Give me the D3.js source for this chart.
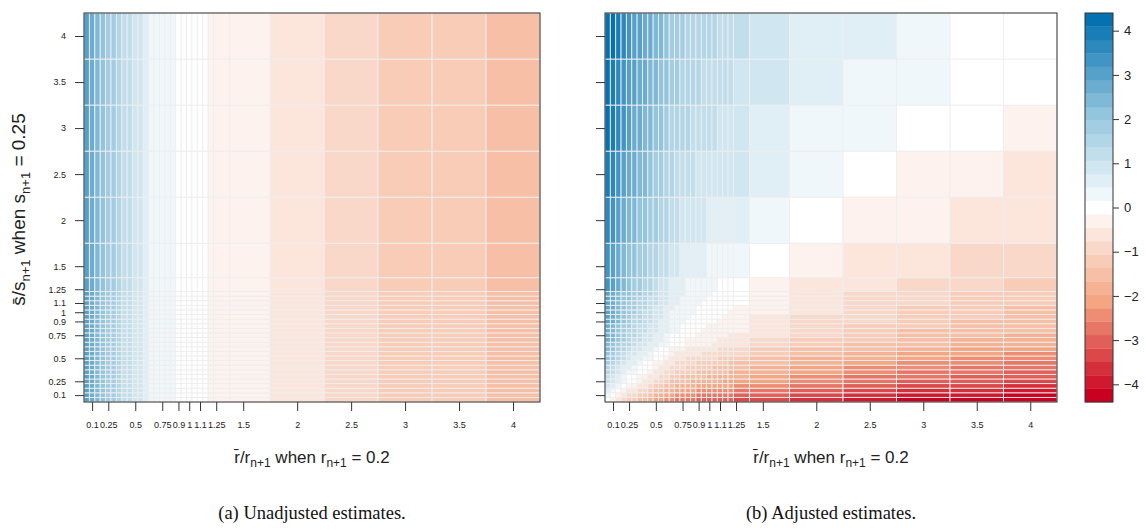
<!DOCTYPE html>
<html><head><meta charset="utf-8">
<script src="https://cdn.jsdelivr.net/npm/d3@7/dist/d3.min.js"></script>
<style>body{margin:0;background:#fff;} svg{display:block;}</style>
</head><body><svg id="chart" width="1146" height="529"></svg>
<script>
// ---- data ----
const gridValues = [0.05,0.1,0.15,0.2,0.25,0.3,0.35,0.4,0.45,0.5,0.55,0.6,0.65,0.7,0.75,0.8,0.85,0.9,0.95,1,1.05,1.1,1.15,1.2,1.25,1.5,2,2.5,3,3.5,4];
const xTickValues = [0.1,0.25,0.5,0.75,0.9,1,1.1,1.25,1.5,2,2.5,3,3.5,4];
const yTickValues = [0.1,0.25,0.5,0.75,0.9,1,1.1,1.25,1.5,2,2.5,3,3.5,4];
const legendTicks = [-4,-3,-2,-1,0,1,2,3,4];
const legendLimits = [-4.4, 4.4];
const legendBands = 29;
const paletteAnchors = ["#ca0020","#f4a582","#ffffff","#92c5de","#0571b0"];

// (a) unadjusted estimate by r-bar/r column (same for every s-bar/s row)
const unadjusted = [3.0,2.7,2.4,2.1,1.85,1.7,1.5,1.35,1.2,1.0,0.85,0.7,0.45,0.38,0.3,0.22,0.16,0.1,0.06,0,-0.04,-0.09,-0.13,-0.17,-0.21,-0.4,-0.7,-0.95,-1.15,-1.3,-1.45];

// (b) adjusted estimates; one row per s-bar/s value (bottom 0.05 -> top 4), columns by r-bar/r
const adjRow005 = [0,-0.3,-0.6,-0.9,-1.2,-1.2,-1.5,-1.5,-1.8,-2.1,-2.1,-2.4,-2.4,-2.7,-2.7,-2.7,-2.7,-3,-3,-3,-3,-3,-3,-3,-3.3,-3.3,-3.6,-3.9,-4.2,-4.2,-4.2];
const adjRow010 = [0.3,0,-0.3,-0.6,-0.9,-0.9,-1.2,-1.2,-1.5,-1.8,-1.8,-2.1,-2.1,-2.4,-2.4,-2.4,-2.4,-2.7,-2.7,-2.7,-2.7,-2.7,-2.7,-2.7,-3,-3,-3.3,-3.6,-3.9,-3.9,-4.2];
const adjRow015 = [0.6,0.3,0,-0.3,-0.6,-0.6,-0.9,-0.9,-1.2,-1.5,-1.5,-1.8,-1.8,-2.1,-2.1,-2.1,-2.1,-2.4,-2.4,-2.4,-2.4,-2.4,-2.4,-2.4,-2.7,-2.7,-3,-3.3,-3.6,-3.6,-3.9];
const adjRow020 = [0.9,0.6,0.3,0,-0.3,-0.3,-0.6,-0.6,-0.9,-1.2,-1.2,-1.5,-1.5,-1.8,-1.8,-1.8,-1.8,-2.1,-2.1,-2.1,-2.1,-2.1,-2.1,-2.1,-2.4,-2.4,-2.7,-3,-3.3,-3.3,-3.6];
const adjRow025 = [1.2,0.9,0.6,0.3,0,0,-0.3,-0.6,-0.6,-0.9,-0.9,-1.2,-1.5,-1.5,-1.5,-1.5,-1.8,-1.8,-1.8,-1.8,-1.8,-1.8,-2.1,-2.1,-2.1,-2.1,-2.4,-2.7,-3,-3,-3.3];
const adjRow030 = [1.2,0.9,0.6,0.3,0,0,-0.3,-0.3,-0.6,-0.6,-0.9,-0.9,-1.2,-1.2,-1.5,-1.5,-1.5,-1.5,-1.5,-1.8,-1.8,-1.8,-1.8,-1.8,-1.8,-2.1,-2.4,-2.7,-2.7,-3,-3];
const adjRow035 = [1.5,1.2,0.9,0.6,0.3,0.3,0,0,-0.3,-0.6,-0.6,-0.9,-0.9,-1.2,-1.2,-1.2,-1.2,-1.5,-1.5,-1.5,-1.5,-1.5,-1.5,-1.8,-1.8,-1.8,-2.1,-2.4,-2.7,-2.7,-3];
const adjRow040 = [1.5,1.2,0.9,0.6,0.6,0.3,0,0,0,-0.3,-0.6,-0.6,-0.9,-0.9,-0.9,-1.2,-1.2,-1.2,-1.2,-1.2,-1.5,-1.5,-1.5,-1.5,-1.5,-1.8,-2.1,-2.4,-2.4,-2.7,-2.7];
const adjRow045 = [1.8,1.5,1.2,0.9,0.6,0.6,0.3,0,0,-0.3,-0.3,-0.6,-0.6,-0.9,-0.9,-0.9,-0.9,-1.2,-1.2,-1.2,-1.2,-1.2,-1.2,-1.5,-1.5,-1.5,-1.8,-2.1,-2.4,-2.4,-2.7];
const adjRow050 = [2.1,1.8,1.5,1.2,0.9,0.6,0.6,0.3,0.3,0,0,-0.3,-0.6,-0.6,-0.6,-0.9,-0.9,-0.9,-0.9,-0.9,-0.9,-1.2,-1.2,-1.2,-1.2,-1.5,-1.8,-1.8,-2.1,-2.4,-2.4];
const adjRow055 = [2.1,1.8,1.5,1.2,0.9,0.9,0.6,0.6,0.3,0,0,0,-0.3,-0.6,-0.6,-0.6,-0.6,-0.6,-0.9,-0.9,-0.9,-0.9,-0.9,-0.9,-0.9,-1.2,-1.5,-1.8,-2.1,-2.1,-2.4];
const adjRow060 = [2.4,2.1,1.8,1.5,1.2,0.9,0.9,0.6,0.6,0.3,0,0,-0.3,-0.3,-0.3,-0.6,-0.6,-0.6,-0.6,-0.6,-0.6,-0.9,-0.9,-0.9,-0.9,-1.2,-1.5,-1.5,-1.8,-2.1,-2.1];
const adjRow065 = [2.4,2.1,1.8,1.5,1.5,1.2,0.9,0.9,0.6,0.6,0.3,0.3,0,0,0,-0.3,-0.3,-0.3,-0.3,-0.3,-0.6,-0.6,-0.6,-0.6,-0.6,-0.9,-1.2,-1.5,-1.5,-1.8,-1.8];
const adjRow070 = [2.7,2.4,2.1,1.8,1.5,1.2,1.2,0.9,0.9,0.6,0.6,0.3,0,0,0,-0.3,-0.3,-0.3,-0.3,-0.3,-0.3,-0.6,-0.6,-0.6,-0.6,-0.9,-1.2,-1.2,-1.5,-1.8,-1.8];
const adjRow075 = [2.7,2.4,2.1,1.8,1.5,1.5,1.2,0.9,0.9,0.6,0.6,0.3,0,0,0,0,0,-0.3,-0.3,-0.3,-0.3,-0.3,-0.3,-0.6,-0.6,-0.6,-0.9,-1.2,-1.5,-1.5,-1.8];
const adjRow080 = [2.7,2.4,2.1,1.8,1.5,1.5,1.2,1.2,0.9,0.9,0.6,0.6,0.3,0.3,0,0,0,0,-0.3,-0.3,-0.3,-0.3,-0.3,-0.3,-0.3,-0.6,-0.9,-1.2,-1.5,-1.5,-1.5];
const adjRow085 = [2.7,2.4,2.1,1.8,1.8,1.5,1.2,1.2,0.9,0.9,0.6,0.6,0.3,0.3,0,0,0,0,0,-0.3,-0.3,-0.3,-0.3,-0.3,-0.3,-0.6,-0.9,-1.2,-1.2,-1.5,-1.5];
const adjRow090 = [3,2.7,2.4,2.1,1.8,1.5,1.5,1.2,1.2,0.9,0.6,0.6,0.3,0.3,0.3,0,0,0,0,0,0,-0.3,-0.3,-0.3,-0.3,-0.6,-0.9,-0.9,-1.2,-1.5,-1.5];
const adjRow095 = [3,2.7,2.4,2.1,1.8,1.5,1.5,1.2,1.2,0.9,0.9,0.6,0.3,0.3,0.3,0.3,0,0,0,0,0,0,-0.3,-0.3,-0.3,-0.6,-0.9,-0.9,-1.2,-1.2,-1.5];
const adjRow100 = [3,2.7,2.4,2.1,1.8,1.8,1.5,1.2,1.2,0.9,0.9,0.6,0.3,0.3,0.3,0.3,0.3,0,0,0,0,0,0,-0.3,-0.3,-0.3,-0.6,-0.9,-1.2,-1.2,-1.5];
const adjRow105 = [3,2.7,2.4,2.1,1.8,1.8,1.5,1.5,1.2,0.9,0.9,0.6,0.6,0.3,0.3,0.3,0.3,0,0,0,0,0,0,0,-0.3,-0.3,-0.6,-0.9,-1.2,-1.2,-1.5];
const adjRow110 = [3,2.7,2.4,2.1,1.8,1.8,1.5,1.5,1.2,1.2,0.9,0.9,0.6,0.6,0.3,0.3,0.3,0.3,0,0,0,0,0,0,0,-0.3,-0.6,-0.9,-0.9,-1.2,-1.2];
const adjRow115 = [3,2.7,2.4,2.1,2.1,1.8,1.5,1.5,1.2,1.2,0.9,0.9,0.6,0.6,0.3,0.3,0.3,0.3,0.3,0,0,0,0,0,0,-0.3,-0.6,-0.9,-0.9,-1.2,-1.2];
const adjRow120 = [3,2.7,2.4,2.1,2.1,1.8,1.8,1.5,1.5,1.2,0.9,0.9,0.6,0.6,0.6,0.3,0.3,0.3,0.3,0.3,0,0,0,0,0,-0.3,-0.6,-0.9,-0.9,-1.2,-1.2];
const adjRow125 = [3.3,3,2.7,2.4,2.1,1.8,1.8,1.5,1.5,1.2,0.9,0.9,0.6,0.6,0.6,0.3,0.3,0.3,0.3,0.3,0.3,0,0,0,0,-0.3,-0.6,-0.6,-0.9,-0.9,-1.2];
const adjRow150 = [3.3,3,2.7,2.4,2.1,2.1,1.8,1.8,1.5,1.5,1.2,1.2,0.9,0.9,0.6,0.6,0.6,0.6,0.6,0.3,0.3,0.3,0.3,0.3,0.3,0,-0.3,-0.6,-0.6,-0.9,-0.9];
const adjRow200 = [3.6,3.3,3,2.7,2.4,2.4,2.1,2.1,1.8,1.8,1.5,1.5,1.2,1.2,0.9,0.9,0.9,0.9,0.9,0.6,0.6,0.6,0.6,0.6,0.6,0.3,0,-0.3,-0.3,-0.6,-0.6];
const adjRow250 = [3.9,3.6,3.3,3,2.7,2.7,2.4,2.4,2.1,1.8,1.8,1.5,1.5,1.2,1.2,1.2,1.2,0.9,0.9,0.9,0.9,0.9,0.9,0.9,0.9,0.6,0.3,0,-0.3,-0.3,-0.6];
const adjRow300 = [4.2,3.9,3.6,3.3,3,2.7,2.7,2.4,2.4,2.1,2.1,1.8,1.5,1.5,1.5,1.5,1.2,1.2,1.2,1.2,1.2,0.9,0.9,0.9,0.9,0.6,0.3,0.3,0,0,-0.3];
const adjRow350 = [4.2,3.9,3.6,3.3,3,3,2.7,2.7,2.4,2.4,2.1,2.1,1.8,1.8,1.5,1.5,1.5,1.5,1.2,1.2,1.2,1.2,1.2,1.2,0.9,0.9,0.6,0.3,0.3,0,0];
const adjRow400 = [4.2,4.2,3.9,3.6,3.3,3,3,2.7,2.7,2.4,2.4,2.1,1.8,1.8,1.8,1.5,1.5,1.5,1.5,1.5,1.5,1.2,1.2,1.2,1.2,0.9,0.6,0.6,0.3,0,0];
const adjusted = [adjRow005,adjRow010,adjRow015,adjRow020,adjRow025,adjRow030,adjRow035,adjRow040,adjRow045,adjRow050,adjRow055,adjRow060,adjRow065,adjRow070,adjRow075,adjRow080,adjRow085,adjRow090,adjRow095,adjRow100,adjRow105,adjRow110,adjRow115,adjRow120,adjRow125,adjRow150,adjRow200,adjRow250,adjRow300,adjRow350,adjRow400];

// ---- layout ----
const svg = d3.select("#chart");
const plotTop = 13, plotBottom = 402;
const panels = [
  {x0: 84, x1: 540, value: (i, j) => unadjusted[i], yAxisLabels: true, caption: "(a) Unadjusted estimates."},
  {x0: 605, x1: 1057, value: (i, j) => adjusted[j][i], yAxisLabels: false, caption: "(b) Adjusted estimates."}
];
const n = gridValues.length;
const edges = gridValues.map((v, i) => i === 0 ? v - (gridValues[1] - v) / 2 : (gridValues[i - 1] + v) / 2);
edges.push(gridValues[n - 1] + (gridValues[n - 1] - gridValues[n - 2]) / 2);
const domain = [edges[0], edges[n]];

const bandWidth = (legendLimits[1] - legendLimits[0]) / legendBands;
const bandColor = d3.scaleLinear().domain([0, 7, 14, 21, 28]).range(paletteAnchors).interpolate(d3.interpolateRgb);
const colorOf = v => {
  let b = Math.floor((v - legendLimits[0]) / bandWidth);
  b = Math.max(0, Math.min(legendBands - 1, b));
  return bandColor(b);
};

const yScale = d3.scaleLinear().domain(domain).range([plotBottom, plotTop]);
const tickFont = "Liberation Sans, Arial, sans-serif";
const fmt = v => String(v);

panels.forEach(p => {
  const x = d3.scaleLinear().domain(domain).range([p.x0, p.x1]);
  const g = svg.append("g");
  const cells = [];
  for (let j = 0; j < n; j++) for (let i = 0; i < n; i++) cells.push({i, j, v: p.value(i, j)});
  g.selectAll("rect.cell").data(cells).join("rect")
    .attr("class", "cell")
    .attr("x", d => x(edges[d.i]))
    .attr("width", d => x(edges[d.i + 1]) - x(edges[d.i]))
    .attr("y", d => yScale(edges[d.j + 1]))
    .attr("height", d => yScale(edges[d.j]) - yScale(edges[d.j + 1]))
    .attr("fill", d => colorOf(d.v))
    .attr("stroke", "#eeeeee")
    .attr("stroke-width", 0.9);
  g.append("rect").attr("x", p.x0).attr("y", plotTop).attr("width", p.x1 - p.x0).attr("height", plotBottom - plotTop)
    .attr("fill", "none").attr("stroke", "#333").attr("stroke-width", 1);

  const xa = g.append("g").attr("transform", `translate(0,${plotBottom})`)
    .call(d3.axisBottom(x).tickValues(xTickValues).tickFormat(fmt).tickSize(9).tickPadding(10.5));
  const ya = g.append("g").attr("transform", `translate(${p.x0},0)`)
    .call(d3.axisLeft(yScale).tickValues(yTickValues).tickFormat(p.yAxisLabels ? fmt : () => "").tickSize(9).tickPadding(9));
  [xa, ya].forEach(a => {
    a.select(".domain").remove();
    a.selectAll("line").attr("stroke", "#333");
    a.selectAll("text").attr("font-family", tickFont).attr("font-size", 9).attr("fill", "#222");
  });

  const cx = (p.x0 + p.x1) / 2;
  const t = g.append("text").attr("x", cx).attr("y", 463).attr("text-anchor", "middle")
    .attr("font-family", tickFont).attr("font-size", 17).attr("fill", "#222");
  t.append("tspan").text("r\u0304/r");
  t.append("tspan").attr("font-size", 12).attr("dy", 4).text("n+1");
  t.append("tspan").attr("dy", -4).text(" when r");
  t.append("tspan").attr("font-size", 12).attr("dy", 4).text("n+1");
  t.append("tspan").attr("dy", -4).text(" = 0.2");

  g.append("text").attr("x", cx).attr("y", 519).attr("text-anchor", "middle")
    .attr("font-family", "Liberation Serif, DejaVu Serif, serif").attr("font-size", 18.5).attr("fill", "#111")
    .text(p.caption);
});

const yt = svg.append("text").attr("transform", `translate(25,${(plotTop + plotBottom) / 2 + 2}) rotate(-90)`)
  .attr("text-anchor", "middle").attr("font-family", tickFont).attr("font-size", 19).attr("fill", "#222");
yt.append("tspan").text("s\u0304/s");
yt.append("tspan").attr("font-size", 13).attr("dy", 4.5).text("n+1");
yt.append("tspan").attr("dy", -4.5).text(" when s");
yt.append("tspan").attr("font-size", 13).attr("dy", 4.5).text("n+1");
yt.append("tspan").attr("dy", -4.5).text(" = 0.25");

const lx0 = 1085, lx1 = 1113;
const ly = d3.scaleLinear().domain(legendLimits).range([plotBottom, plotTop]);
const bands = d3.range(legendBands).map(b => ({lo: legendLimits[0] + b * bandWidth, hi: legendLimits[0] + (b + 1) * bandWidth, b}));
const key = svg.append("g");
key.selectAll("rect.band").data(bands).join("rect").attr("class", "band")
  .attr("x", lx0).attr("width", lx1 - lx0)
  .attr("y", d => ly(d.hi)).attr("height", d => ly(d.lo) - ly(d.hi) + 0.3)
  .attr("fill", d => bandColor(d.b));
key.append("rect").attr("x", lx0).attr("y", plotTop).attr("width", lx1 - lx0).attr("height", plotBottom - plotTop)
  .attr("fill", "none").attr("stroke", "#333");
const ka = key.append("g").attr("transform", `translate(${lx1},0)`)
  .call(d3.axisRight(ly).tickValues(legendTicks).tickFormat(v => v < 0 ? "\u2212" + Math.abs(v) : String(v)).tickSize(6).tickPadding(5));
ka.select(".domain").remove();
ka.selectAll("line").attr("stroke", "#333");
ka.selectAll("text").attr("font-family", tickFont).attr("font-size", 13).attr("fill", "#222");
</script></body></html>
